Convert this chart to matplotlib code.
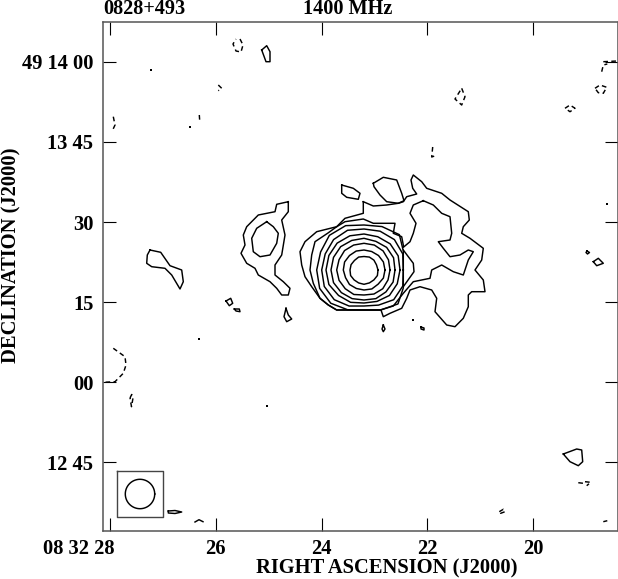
import numpy as np
import matplotlib
matplotlib.use("Agg")
import matplotlib.pyplot as plt
import matplotlib.transforms as mtrans

plt.rcParams['font.family'] = ['Liberation Serif', 'DejaVu Serif']
plt.rcParams['font.weight'] = 'bold'

# Map grid -> sky: RA seconds and Dec arcsec (relative to 49 12 00)
RA_REF_CELL, RA_CELLS_PER_S = 110.0, 52.9
DEC_REF_CELL, DEC_CELLS_PER_AS = 62.0, 80.0 / 15.0

def ra(c):
    return 28 - (np.asarray(c, float) - RA_REF_CELL) / RA_CELLS_PER_S

def dec(c):
    return 120 - (np.asarray(c, float) - DEC_REF_CELL) / DEC_CELLS_PER_AS

ra_ticks = [28, 26, 24, 22, 20]
ra_labels = ['08 32 28', '26', '24', '22', '20']
dec_ticks = [120, 105, 90, 75, 60, 45]
dec_labels = ['49 14 00', '13 45', '30', '15', '00', '12 45']

outer_lobe = [(363.3,201.7),(363.3,213.3),(345,218.3),(336.7,226.7),(316.7,231.7),(305,241.7),(300,251.7),
              (301.7,265),(305,276.7),(311.7,286.7),(320,298.3),(328.3,305),(336.7,310),(381,310),(383.3,316.7),
              (390,313.3),(401.7,308.3),(406.7,298.3),(410,290),(420,286.7),(431.7,290),(436.7,298.3),(435,311.7),
              (446.7,325),(455,326.7),(463.3,318.3),(468.3,306.7),(468.3,295),(471.7,291.7),(485,291.7),(483.3,280),
              (475,270),(481.7,260),(483.3,248.3),(470,238.3),(461.7,233.3),(463.3,226.7),(469.3,220),(468.3,211.7),
              (450,200),(441.7,193.3),(426.7,188.3),(421.7,181.7),(413.3,175),(411,180),(412.7,188.3),(416.7,194),
              (406.7,196.7),(403.3,201.7),(398.3,203.3),(386.7,205),(373.3,206),(363.3,201.7)]
second_lobe = [(423.3,200.7),(413.3,205),(410,213.3),(416,223.3),(413.3,233.3),(410,241.7),(403.3,247.3),
               (403.3,245),(401.7,236.7),(393.3,233.3),(395,223.3),(373.3,223.3),(363.3,219),(345,221.7),(336.7,226.7),
               (328,233),(315,241.7),(311.7,255),(310,270),(313.3,283.3),(320,298.3),(328.3,305),(336.7,310),(380,310),
               (393.3,306),(403.3,293.3),(413.3,281.7),(430,278.3),(431.7,270),(441.7,265),(453.3,271.7),(463.3,275),
               (468.3,260),(473.3,251.7),(468.3,250),(460,255),(450,256.7),(443.3,248.3),(438.3,241.7),(450,240),
               (451.7,233.3),(450,216.7),(441.7,213.3),(433.3,205),(423.3,200.7)]
third_apex = [(403.3,250),(408.3,256.7),(413.3,263.3),(414,271.7),(403.3,286.7)]
north_island = [(373.3,183.3),(383.3,177.3),(396.7,180),(401.7,193.3),(404,200.7),(398.3,203.3),(386.7,201.7),
                (380,195),(374,186.7),(373.3,183.3)]
small_island = [(341.7,185),(353.3,188.3),(360,193.3),(358.3,199.3),(346.7,197.3),(341.7,193.3),(341.7,185)]
west_outer = [(288.3,201.7),(276.7,204.3),(275,211.7),(258.3,215),(246.7,226.7),(243.3,235),(245,245),(241,253.3),
              (246.7,263.3),(255,268.3),(258.3,275),(270,281.7),(276.7,288.3),(281.7,295),(288.3,295),(290,288.3),
              (283.3,281.7),(275,275),(275,265),(281.7,255),(285,235),(281.7,220),(288.3,211.7),(288.3,201.7)]
west_inner = [(266.7,221.7),(256.7,228.3),(251.7,238.3),(253.3,251.7),(260,256.7),(270,255),(276.7,243.3),
              (278.3,233.3),(273.3,226.7),(266.7,221.7)]
far_west = [(150,250),(160.7,252.3),(170,265.7),(181.7,270),(183.3,281.7),(180,289),(171.7,275),(165,268.3),
            (151.7,266.7),(146.7,263.3),(147.3,255),(150,250)]
north_blob = [(261.7,50),(266.7,45.7),(270,51.7),(270,61.7),(266,61.7),(261.7,50)]
south_triangle = [(563.3,454),(576.7,449),(581.7,450),(582.7,461.7),(578.3,465.7),(570,461.7),(563.3,454)]
blob_a = [(226,301),(230.7,298.3),(232.7,303.3),(229.3,305.7),(226,301)]
blob_b = [(234.3,309),(239.3,309),(240,311.7),(236,311),(234.3,309)]
blob_c = [(286,308.3),(288.3,315),(291.7,319),(286.7,321.7),(284,316.7),(286,308.3)]
blob_d = [(383.3,325),(385,329),(383.3,331.7),(382,329),(383.3,325)]
blob_e = [(421,327),(424,328),(424,330),(421,329),(421,327)]
blob_f = [(587,251),(589.5,252.5),(587.5,254),(586,252.5),(587,251)]
blob_g = [(593.3,261.7),(598.3,258.3),(603.3,263.3),(596.7,265.7),(593.3,261.7)]
blob_h = [(168.3,511),(175,510.5),(181.7,512),(175,513.5),(168.3,513),(168.3,511)]
arc_a = [(195,522),(199,519.7),(203,521.7)]
solid_lines = [outer_lobe, second_lobe, third_apex, north_island, small_island, west_outer, west_inner, far_west,
               north_blob, south_triangle, blob_a, blob_b, blob_c, blob_d, blob_e, blob_f, blob_g, blob_h, arc_a]

neg_a = [(240,39),(243,45),(241,52),(236,51),(233,44),(236,39)]
neg_b = [(113.3,116.7),(115,125),(112.7,130)]
neg_c = [(199.3,115),(199.8,122)]
neg_d = [(218.3,85),(221.7,88.3),(218.3,90.7)]
neg_e = [(113.3,348.3),(125,356.7),(126,365),(123.3,373.3),(115,381.7),(103.3,382.3)]
neg_f = [(130,398),(131.7,394.5),(133,398),(131.5,406.7),(130,398)]
neg_g = [(461.7,88.3),(465,96.7),(461.7,105),(455,99),(461.7,88.3)]
neg_h = [(432.7,147),(431.7,157),(437.3,155)]
neg_i = [(565,108.3),(570,105),(575,108.3),(570,111.7),(565,108.3)]
neg_j = [(595,88.3),(600,85),(606.7,87.3),(603.3,93.3),(598.3,92.7),(595,88.3)]
neg_k = [(601.7,71.7),(603.3,65),(607.3,64)]
neg_l = [(603.3,61.7),(617,61)]
neg_m = [(578.3,482.7),(583.3,483.3)]
neg_n = [(585,481.7),(590.7,482.3),(586.7,485.7)]
neg_o = [(499.3,511.7),(503.3,509.3),(505,511.7),(500.7,513.3),(499.3,511.7)]
neg_p = [(603.3,521.7),(607.3,520.7)]
dashed_lines = [neg_a, neg_b, neg_c, neg_d, neg_e, neg_f, neg_g, neg_h, neg_i, neg_j, neg_k, neg_l, neg_m, neg_n,
                neg_o, neg_p]

dot_x = [151, 190, 199, 267, 412.7, 606.7]
dot_y = [70, 127.5, 339, 405.7, 320, 204]

# Core rings: radius (cells) measured around the peak, every 22.5 degrees from east, through north
core_x, core_y = 364.0, 270.0
ring_angles = [0, 22.5, 45, 67.5, 90, 112.5, 135, 157.5, 180, 202.5, 225, 247.5, 270, 292.5, 315, 337.5]
ring_radii = [
    [14, 13.5, 14, 14, 13.5, 14, 13.5, 14, 14, 14.5, 14, 14, 14.3, 14, 14, 14.5],
    [21, 21, 20.5, 20, 20, 20.5, 20.5, 21, 20.7, 20, 20.5, 20, 20, 20.5, 20, 21],
    [26, 26.5, 27, 27, 26.7, 27, 27.5, 27, 27.3, 27, 26.5, 26.5, 25, 26, 26.5, 26],
    [31, 32, 32, 31, 31.7, 32, 33, 33, 33, 33, 32, 31, 30, 31, 31, 31.5],
    [36, 37, 37, 36, 36, 37, 38, 38, 38, 38, 36, 35, 33, 34, 36, 36],
    [42, 42, 43, 42, 41, 43, 43, 42, 42.3, 43, 42, 39, 36, 38, 42, 42],
    [47, 50, 50, 47, 45, 48, 49, 47, 47.3, 48, 47, 43, 42, 44, 48, 47],
]
clip_right, clip_bottom = 403.3, 310.0

# Restoring beam
beam_box_x = [116.7, 163.3, 163.3, 116.7, 116.7]
beam_box_y = [471, 471, 517.3, 517.3, 471]
beam_x, beam_y, beam_r = 140.0, 494.0, 14.7

fig = plt.figure(figsize=(6.18, 5.79), dpi=100)
W, H = 618.0, 579.0
L, R_, T, B = 103.0, 617.5, 22.0, 531.0
ax = fig.add_axes([L / W, 1 - B / H, (R_ - L) / W, (B - T) / H])
ax.set_xlim(ra(L), ra(R_))
ax.set_ylim(dec(B), dec(T))

LW = 1.05
for seg in solid_lines:
    a = np.array(seg)
    ax.plot(ra(a[:, 0]), dec(a[:, 1]), color='black', lw=LW, solid_joinstyle='round')
for seg in dashed_lines:
    a = np.array(seg)
    ax.plot(ra(a[:, 0]), dec(a[:, 1]), color='black', lw=LW, ls=(0, (3.2, 2.3)))
ax.plot(ra(dot_x), dec(dot_y), ls='none', marker='s', ms=1.8, color='black', mew=0)

th = np.deg2rad(ring_angles + [360])
for radii in ring_radii:
    r = np.array(radii + [radii[0]])
    xs = np.minimum(core_x + r * np.cos(th), clip_right)
    ys = np.minimum(core_y - r * np.sin(th), clip_bottom)
    ax.plot(ra(xs), dec(ys), color='black', lw=LW)

ax.plot(ra(beam_box_x), dec(beam_box_y), color='#444444', lw=1.0)
t = np.linspace(0, 2 * np.pi, 80)
ax.plot(ra(beam_x + beam_r * np.cos(t)), dec(beam_y + beam_r * np.sin(t)), color='black', lw=LW)

for s in ax.spines.values():
    s.set_color('#555555')
    s.set_linewidth(1.1)
ax.set_xticks(ra_ticks)
ax.set_xticklabels(ra_labels)
ax.set_yticks(dec_ticks)
ax.set_yticklabels(dec_labels)
ax.tick_params(axis='both', direction='in', top=True, right=True, length=9.4, width=0.8,
               labelsize=14.8, color='black')
ax.tick_params(axis='x', pad=5.5)
ax.tick_params(axis='y', pad=7)
first = ax.get_xticklabels()[0]
first.set_transform(first.get_transform() + mtrans.ScaledTranslation(-31.5 / 100, 0, fig.dpi_scale_trans))

fig.text(103 / W, 1 - 14.3 / H, '0828+493', fontsize=14.6, ha='left', va='baseline')
fig.text(303 / W, 1 - 14.3 / H, '1400 MHz', fontsize=14.6, ha='left', va='baseline')
fig.text(386.5 / W, 1 - 568 / H, 'RIGHT ASCENSION (J2000)', fontsize=14.8, ha='center', va='center')
fig.text(11 / W, 1 - 255 / H, 'DECLINATION (J2000)', fontsize=14.8, rotation=90, ha='center', va='center')

fig.savefig('out.png', dpi=100)
